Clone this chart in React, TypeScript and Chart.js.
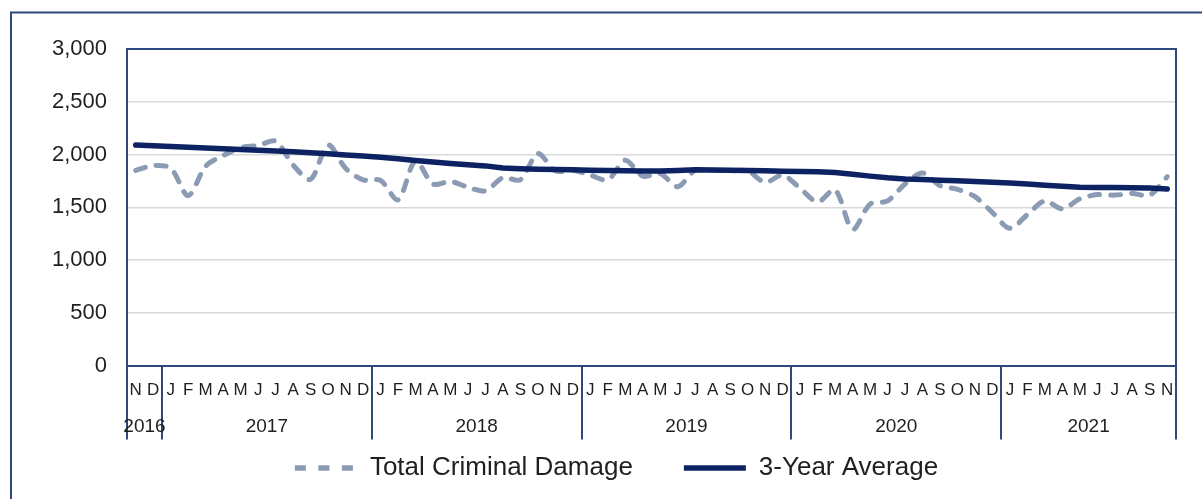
import React, { useEffect, useRef } from 'react';
import { Chart, registerables } from 'chart.js';

Chart.register(...registerables);

// ---- Data ----
const monthLabels = [
  'N', 'D',
  'J', 'F', 'M', 'A', 'M', 'J', 'J', 'A', 'S', 'O', 'N', 'D',
  'J', 'F', 'M', 'A', 'M', 'J', 'J', 'A', 'S', 'O', 'N', 'D',
  'J', 'F', 'M', 'A', 'M', 'J', 'J', 'A', 'S', 'O', 'N', 'D',
  'J', 'F', 'M', 'A', 'M', 'J', 'J', 'A', 'S', 'O', 'N', 'D',
  'J', 'F', 'M', 'A', 'M', 'J', 'J', 'A', 'S', 'N',
];

const yearLabels = ['2016', '2017', '2018', '2019', '2020', '2021'];
const yearMonthCounts = [2, 12, 12, 12, 12, 10];

const totalCriminalDamage = [
  1850, 1895,
  1870, 1610, 1890, 1990, 2065, 2085, 2125, 1900, 1765, 2090, 1870, 1760,
  1755, 1570, 1940, 1720, 1745, 1690, 1655, 1780, 1760, 2010, 1845, 1850,
  1805, 1760, 1945, 1795, 1820, 1695, 1850, 1850, 1845, 1845, 1735, 1805,
  1680, 1550, 1665, 1290, 1530, 1560, 1720, 1825, 1705, 1670, 1600, 1450,
  1300, 1430, 1560, 1485, 1580, 1620, 1615, 1630, 1615, 1790,
];

const threeYearAverage = [
  2090, 2083,
  2076, 2069, 2062, 2055, 2048, 2041, 2034, 2026, 2017, 2007, 1996, 1985,
  1973, 1960, 1943, 1928, 1915, 1903, 1892, 1872, 1866, 1861, 1858, 1855,
  1851, 1848, 1845, 1843, 1843, 1848, 1856, 1853, 1850, 1848, 1846, 1842,
  1840, 1836, 1830, 1812, 1795, 1779, 1768, 1762, 1757, 1751, 1744, 1738,
  1730, 1720, 1709, 1699, 1690, 1688, 1688, 1686, 1682, 1672,
];

const yTickMax = 3000;
const yTickStep = 500;

// ---- Styles ----
const FRAME = '#2E4A7D';
const NAVY = '#0C2262';
const GRAY = '#8A9BB3';
const GRID = '#D9D9D9';
const TEXT = '#1F1F1F';
const FONT = '"Liberation Sans", Arial, Helvetica, sans-serif';
const Y_FONT_SIZE = 22;
// width of the widest y label ("3,000") in Liberation Sans, em units
const Y_WIDEST_EM = 2.502;

// derived year boundaries / centres (in category units)
const yearBoundaries: number[] = [0];
yearMonthCounts.forEach((c) => yearBoundaries.push(yearBoundaries[yearBoundaries.length - 1] + c));
const yearCenters = yearMonthCounts.map((c, i) => yearBoundaries[i] + c / 2);
const boundarySet = new Set(yearBoundaries);
const totalMonths = monthLabels.length;

const outerFrame = {
  id: 'outerFrame',
  beforeDraw(chart: any) {
    const ctx = chart.ctx;
    ctx.save();
    ctx.fillStyle = '#ffffff';
    ctx.fillRect(0, 0, chart.width, chart.height);
    ctx.strokeStyle = FRAME;
    ctx.lineWidth = 2;
    ctx.strokeRect(11, 12.5, chart.width + 40, chart.height + 40);
    ctx.restore();
  },
};

export default function App() {
  const canvasRef = useRef<HTMLCanvasElement | null>(null);

  useEffect(() => {
    if (!canvasRef.current) return;
    Chart.defaults.font.family = FONT;

    const chart = new Chart(canvasRef.current, {
      type: 'line',
      data: {
        labels: monthLabels,
        datasets: [
          {
            label: 'Total Criminal Damage',
            data: totalCriminalDamage,
            borderColor: GRAY,
            backgroundColor: GRAY,
            borderWidth: 5,
            borderDash: [10, 11],
            borderCapStyle: 'round',
            borderJoinStyle: 'round',
            pointRadius: 0,
            tension: 0.3,
            order: 2,
          },
          {
            label: '3-Year Average',
            data: threeYearAverage,
            borderColor: NAVY,
            backgroundColor: NAVY,
            borderWidth: 5.5,
            borderCapStyle: 'round',
            borderJoinStyle: 'round',
            pointRadius: 0,
            tension: 0,
            order: 1,
          },
        ],
      },
      options: {
        responsive: false,
        animation: false,
        events: [],
        layout: { padding: { left: 57, right: 26, top: 49, bottom: 8 } },
        scales: {
          x: {
            type: 'category',
            offset: true,
            grid: {
              offset: true,
              drawOnChartArea: false,
              drawTicks: true,
              tickLength: 74,
              lineWidth: 2,
              color: (c: any) =>
                c.type !== 'tick' || boundarySet.has(c.index) ? FRAME : 'rgba(0,0,0,0)',
            },
            border: { display: true, color: FRAME, width: 2 },
            ticks: {
              mirror: true,
              autoSkip: false,
              maxRotation: 0,
              minRotation: 0,
              padding: -34.7,
              color: TEXT,
              font: { size: 17 },
            },
            afterFit: (s: any) => {
              s.height = 22;
            },
          },
          x2: {
            type: 'linear',
            position: 'bottom',
            weight: 1,
            min: 0,
            max: totalMonths,
            grid: { display: false, drawTicks: false },
            border: { display: false },
            afterBuildTicks: (s: any) => {
              s.ticks = yearCenters.map((v) => ({ value: v }));
            },
            ticks: {
              mirror: true,
              autoSkip: false,
              maxRotation: 0,
              minRotation: 0,
              padding: -50.9,
              color: TEXT,
              font: { size: 19 },
              callback: (_v: any, i: number) => yearLabels[i],
            },
            afterFit: (s: any) => {
              s.height = 16.5;
            },
          },
          y: {
            min: 0,
            max: yTickMax,
            ticks: {
              stepSize: yTickStep,
              mirror: true,
              crossAlign: 'far',
              padding: -(20 + Y_WIDEST_EM * Y_FONT_SIZE),
              color: TEXT,
              font: { size: Y_FONT_SIZE },
            },
            grid: {
              drawTicks: false,
              lineWidth: (c: any) => (c.tick && c.tick.value === yTickMax ? 2 : 1.5),
              color: (c: any) => (c.tick && c.tick.value === yTickMax ? FRAME : GRID),
            },
            border: { display: true, color: FRAME, width: 2 },
            afterFit: (s: any) => {
              s.width = 70;
            },
          },
          y2: {
            position: 'right',
            min: 0,
            max: yTickMax,
            ticks: { display: false },
            grid: { display: false, drawTicks: false },
            border: { display: true, color: FRAME, width: 2 },
            afterFit: (s: any) => {
              s.width = 0;
            },
          },
        },
        plugins: {
          tooltip: { enabled: false },
          legend: {
            position: 'bottom',
            align: 'center',
            labels: {
              usePointStyle: true,
              pointStyle: 'line',
              pointStyleWidth: 62,
              padding: 51,
              color: TEXT,
              font: { size: 26 },
              sort: (a: any, b: any) => a.datasetIndex - b.datasetIndex,
              generateLabels: (ch: any) => {
                const items = (Chart.defaults.plugins.legend.labels as any).generateLabels(ch);
                return items.map((it: any) =>
                  it.datasetIndex === 0 ? { ...it, lineDash: [11, 12.5], lineWidth: 5.5 } : it
                );
              },
            },
          },
        },
      },
      plugins: [outerFrame],
    } as any);

    return () => chart.destroy();
  }, []);

  return (
    <div style={{ position: 'fixed', left: 0, top: 0, width: 1202, height: 499, background: '#fff' }}>
      <canvas ref={canvasRef} width={1202} height={499} style={{ display: 'block', width: 1202, height: 499 }} />
    </div>
  );
}
